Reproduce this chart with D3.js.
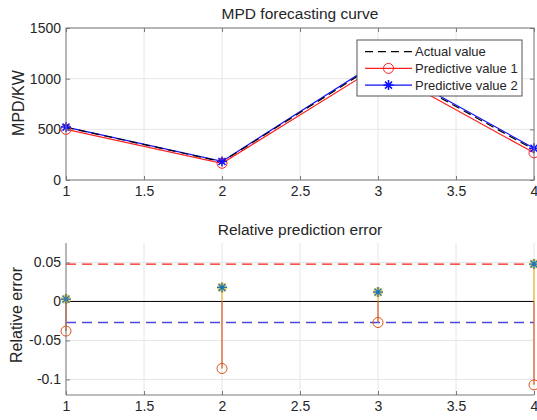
<!DOCTYPE html>
<meta charset="utf-8">
<style>
  body { margin: 0; background: #fff; }
  text { font-family: "Liberation Sans", Arial, sans-serif; fill: #262626; }
  .grid line { stroke: #e6e6e6; }
  .axis path, .axis line { stroke: #7a7a7a; }
  .axis text { font-size: 14px; }
</style>
<body>
<script src="https://d3js.org/d3.v7.min.js"></script>
<script>
  // x positions (sample index)
  var xs = [1, 2, 3, 4];
  var xTicks = [1, 1.5, 2, 2.5, 3, 3.5, 4];

  // top panel: MPD in KW
  var actual = [520, 180, 1150, 300];
  var pred1 = [500, 165, 1119, 268];
  var pred2 = [522, 183, 1164, 314];
  var mpdTicks = [0, 500, 1000, 1500];

  // bottom panel: relative error
  var err1 = [-0.038, -0.086, -0.027, -0.107];
  var err2 = [0.003, 0.018, 0.012, 0.048];
  var errLimits = [0.048, -0.027];
  var errTicks = [-0.1, -0.05, 0, 0.05];

  var W = 537, H = 420;
  var left = 66, right = 534;

  var svg = d3.select("body").append("svg")
    .attr("width", W)
    .attr("height", H);

  var x = d3.scaleLinear().domain([1, 4]).range([left, right]);

  function star(size) {
    var s = size, d = s * 0.7;
    return "M" + (-s) + ",0L" + s + ",0M0," + (-s) + "L0," + s +
      "M" + (-d) + "," + (-d) + "L" + d + "," + d + "M" + (-d) + "," + d + "L" + d + "," + (-d);
  }

  // ---------- top panel ----------
  var y1 = d3.scaleLinear().domain([0, 1500]).range([180, 28]);

  var g1 = svg.append("g");

  var grid1 = g1.append("g").attr("class", "grid");
  grid1.selectAll("line.v").data(xTicks).enter().append("line").attr("class", "v")
    .attr("x1", x).attr("x2", x).attr("y1", 28).attr("y2", 180);
  grid1.selectAll("line.h").data(mpdTicks).enter().append("line").attr("class", "h")
    .attr("x1", left).attr("x2", right).attr("y1", y1).attr("y2", y1);

  var line1 = d3.line().x(function (d, i) { return x(xs[i]); }).y(function (d) { return y1(d); });

  g1.append("path").datum(pred1)
    .attr("d", line1).attr("fill", "none").attr("stroke", "#ff2020").attr("stroke-width", 1.2);
  g1.append("path").datum(pred2)
    .attr("d", line1).attr("fill", "none").attr("stroke", "#1010ff").attr("stroke-width", 1.2);
  g1.append("path").datum(actual)
    .attr("d", line1).attr("fill", "none").attr("stroke", "#000").attr("stroke-width", 1.2)
    .attr("stroke-dasharray", "8,5");

  g1.selectAll(".c1").data(pred1).enter().append("circle")
    .attr("cx", function (d, i) { return x(xs[i]); })
    .attr("cy", y1).attr("r", 5)
    .attr("fill", "none").attr("stroke", "#ff2020").attr("stroke-width", 1);

  g1.selectAll(".s2").data(pred2).enter().append("path")
    .attr("transform", function (d, i) { return "translate(" + x(xs[i]) + "," + y1(d) + ")"; })
    .attr("d", star(5))
    .attr("stroke", "#1010ff").attr("stroke-width", 1.5).attr("fill", "none");

  // box
  g1.append("rect").attr("x", left).attr("y", 28).attr("width", right - left).attr("height", 152)
    .attr("fill", "none").attr("stroke", "#7a7a7a");

  g1.append("g").attr("class", "axis")
    .attr("transform", "translate(0,180)")
    .call(d3.axisBottom(x).tickValues(xTicks).tickSize(-4).tickPadding(6).tickFormat(d3.format("")))
    .call(function (a) { a.select(".domain").remove(); });
  g1.append("g").attr("class", "axis")
    .attr("transform", "translate(0,28)")
    .call(d3.axisTop(x).tickValues(xTicks).tickSize(-4).tickFormat(""))
    .call(function (a) { a.select(".domain").remove(); });
  g1.append("g").attr("class", "axis")
    .attr("transform", "translate(" + left + ",0)")
    .call(d3.axisLeft(y1).tickValues(mpdTicks).tickSize(-4).tickPadding(5).tickFormat(d3.format("d")))
    .call(function (a) { a.select(".domain").remove(); });
  g1.append("g").attr("class", "axis")
    .attr("transform", "translate(" + right + ",0)")
    .call(d3.axisRight(y1).tickValues(mpdTicks).tickSize(-4).tickFormat(""))
    .call(function (a) { a.select(".domain").remove(); });

  svg.append("text").attr("x", 300).attr("y", 19).attr("text-anchor", "middle")
    .style("font-size", "15.5px").text("MPD forecasting curve");
  svg.append("text").attr("transform", "translate(24,103) rotate(-90)").attr("text-anchor", "middle")
    .style("font-size", "16px").text("MPD/KW");

  // legend
  var lg = svg.append("g").attr("transform", "translate(357,40)");
  lg.append("rect").attr("width", 165).attr("height", 56)
    .attr("fill", "#fff").attr("stroke", "#555");
  var legendItems = [
    { label: "Actual value", color: "#000", dash: "8,5", mark: null },
    { label: "Predictive value 1", color: "#ff2020", dash: null, mark: "circle" },
    { label: "Predictive value 2", color: "#1010ff", dash: null, mark: "star" }
  ];
  legendItems.forEach(function (it, i) {
    var yy = 11.7 + i * 16.7;
    lg.append("line").attr("x1", 8).attr("x2", 55).attr("y1", yy).attr("y2", yy)
      .attr("stroke", it.color).attr("stroke-width", 1.2)
      .attr("stroke-dasharray", it.dash);
    if (it.mark === "circle") {
      lg.append("circle").attr("cx", 31.5).attr("cy", yy).attr("r", 5)
        .attr("fill", "none").attr("stroke", it.color);
    } else if (it.mark === "star") {
      lg.append("path").attr("transform", "translate(31.5," + yy + ")").attr("d", star(5))
        .attr("stroke", it.color).attr("stroke-width", 1.5);
    }
    lg.append("text").attr("x", 58).attr("y", yy + 4.6).style("font-size", "13px").text(it.label);
  });

  // ---------- bottom panel ----------
  var y2 = d3.scaleLinear().domain([-0.12, 0.075]).range([395, 243]);
  var g2 = svg.append("g");

  var grid2 = g2.append("g").attr("class", "grid");
  grid2.selectAll("line.v").data(xTicks).enter().append("line").attr("class", "v")
    .attr("x1", x).attr("x2", x).attr("y1", 243).attr("y2", 395);
  grid2.selectAll("line.h").data(errTicks).enter().append("line").attr("class", "h")
    .attr("x1", left).attr("x2", right).attr("y1", y2).attr("y2", y2);

  // limit lines
  g2.append("line").attr("x1", left).attr("x2", right)
    .attr("y1", y2(errLimits[0])).attr("y2", y2(errLimits[0]))
    .attr("stroke", "#ff1a1a").attr("stroke-width", 1.2).attr("stroke-dasharray", "10,6");
  g2.append("line").attr("x1", left).attr("x2", right)
    .attr("y1", y2(errLimits[1])).attr("y2", y2(errLimits[1]))
    .attr("stroke", "#4a4ae0").attr("stroke-width", 1.6).attr("stroke-dasharray", "10,6");

  // zero line
  g2.append("line").attr("x1", left).attr("x2", right)
    .attr("y1", y2(0)).attr("y2", y2(0)).attr("stroke", "#000").attr("stroke-width", 1);

  // stems
  g2.selectAll(".st2").data(err2).enter().append("line")
    .attr("x1", function (d, i) { return x(xs[i]); }).attr("x2", function (d, i) { return x(xs[i]); })
    .attr("y1", y2(0)).attr("y2", y2)
    .attr("stroke", "#EDB120").attr("stroke-width", 1.2);
  g2.selectAll(".st1").data(err1).enter().append("line")
    .attr("x1", function (d, i) { return x(xs[i]); }).attr("x2", function (d, i) { return x(xs[i]); })
    .attr("y1", y2(0)).attr("y2", y2)
    .attr("stroke", "#D95319").attr("stroke-width", 1.2);

  g2.selectAll(".m1").data(err1).enter().append("circle")
    .attr("cx", function (d, i) { return x(xs[i]); })
    .attr("cy", y2).attr("r", 5)
    .attr("fill", "none").attr("stroke", "#D95319").attr("stroke-width", 1);
  g2.selectAll(".m2b").data(err2).enter().append("path")
    .attr("transform", function (d, i) { return "translate(" + x(xs[i]) + "," + y2(d) + ")"; })
    .attr("d", star(5))
    .attr("stroke", "#f0d060").attr("stroke-width", 3).attr("fill", "none");
  g2.selectAll(".m2").data(err2).enter().append("path")
    .attr("transform", function (d, i) { return "translate(" + x(xs[i]) + "," + y2(d) + ")"; })
    .attr("d", star(5))
    .attr("stroke", "#1a74b8").attr("stroke-width", 1.3).attr("fill", "none");

  g2.append("g").attr("class", "axis")
    .attr("transform", "translate(0,395)")
    .call(d3.axisBottom(x).tickValues(xTicks).tickSize(-4).tickPadding(6).tickFormat(d3.format("")))
    .call(function (a) { a.select(".domain").attr("d", "M" + left + ",0H" + right); });
  g2.append("g").attr("class", "axis")
    .attr("transform", "translate(" + left + ",0)")
    .call(d3.axisLeft(y2).tickValues(errTicks).tickSize(-4).tickPadding(5)
      .tickFormat(function (d) { return String(d); }))
    .call(function (a) { a.select(".domain").attr("d", "M0,243V395"); });

  svg.append("text").attr("x", 300).attr("y", 235).attr("text-anchor", "middle")
    .style("font-size", "15.5px").text("Relative prediction error");
  svg.append("text").attr("transform", "translate(22,315) rotate(-90)").attr("text-anchor", "middle")
    .style("font-size", "16px").text("Relative error");
</script>
</body>
